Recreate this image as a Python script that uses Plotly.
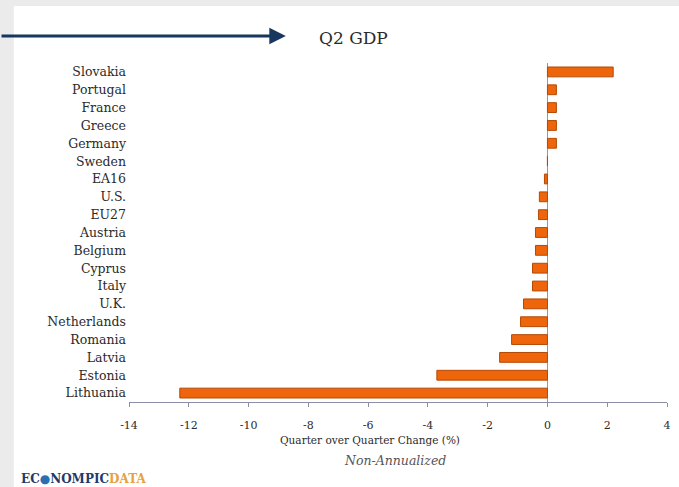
import plotly.graph_objects as go

# Q2 GDP, quarter over quarter change (%), non-annualized
countries = ["Slovakia", "Portugal", "France", "Greece", "Germany", "Sweden",
             "EA16", "U.S.", "EU27", "Austria", "Belgium", "Cyprus", "Italy",
             "U.K.", "Netherlands", "Romania", "Latvia", "Estonia", "Lithuania"]
gdp_change = [2.2, 0.3, 0.3, 0.3, 0.3, 0.0,
              -0.1, -0.27, -0.3, -0.4, -0.4, -0.5, -0.5,
              -0.8, -0.9, -1.2, -1.6, -3.7, -12.3]

x_ticks = [-14, -12, -10, -8, -6, -4, -2, 0, 2, 4]

SERIF = "DejaVu Serif"
TEXT = "#2b2b2b"

# plot area in pixels: x 129..671, y 63..402
L, R = 129, 671

def px(x):
    return (x - L) / (R - L)

def py(y):
    return (402 - y) / 339

fig = go.Figure()
fig.add_trace(go.Bar(
    x=gdp_change,
    y=countries,
    orientation="h",
    width=0.55,
    marker=dict(color="#EE650C", line=dict(color="#B44A05", width=1)),
    hoverinfo="x+y",
))

fig.update_layout(
    width=679,
    height=487,
    paper_bgcolor="#ebebeb",
    plot_bgcolor="rgba(0,0,0,0)",
    margin=dict(l=L, r=679 - R, t=63, b=85),
    showlegend=False,
    font=dict(family=SERIF, color=TEXT, size=12),
    xaxis=dict(
        range=[-14, 4],
        tickvals=x_ticks,
        ticktext=[str(v) for v in x_ticks],
        showgrid=False,
        zeroline=True,
        zerolinecolor="#8a9aae",
        zerolinewidth=1,
        showline=True,
        linecolor="#8a8fa8",
        linewidth=1,
        ticks="outside",
        ticklen=4,
        tickcolor="#8a8fa8",
        ticklabelstandoff=9,
        tickfont=dict(size=11, color=TEXT),
        fixedrange=True,
    ),
    yaxis=dict(
        autorange="reversed",
        showgrid=False,
        zeroline=False,
        showline=False,
        ticks="",
        ticklabelstandoff=2,
        tickfont=dict(size=12.5, color=TEXT),
        fixedrange=True,
    ),
    shapes=[
        # white panel behind the chart
        dict(type="rect", xref="paper", yref="paper",
             x0=px(13), x1=px(690), y0=py(495), y1=py(6),
             fillcolor="white", line=dict(width=0), layer="below"),
    ],
    annotations=[
        dict(text="Q2 GDP", xref="paper", yref="paper",
             x=px(355), y=py(38), xanchor="center", yanchor="middle",
             showarrow=False, font=dict(size=17, color=TEXT, family=SERIF)),
        dict(text="", xref="paper", yref="paper",
             x=px(287), y=py(36), ax=-292, ay=0,
             showarrow=True, arrowhead=2, arrowsize=1.1, arrowwidth=3,
             arrowcolor="#17375e"),
        dict(text="Quarter over Quarter Change (%)", xref="paper", yref="paper",
             x=px(372), y=py(440), xanchor="center", yanchor="middle",
             showarrow=False, font=dict(size=10.5, color=TEXT, family=SERIF)),
        dict(text="<i>Non-Annualized</i>", xref="paper", yref="paper",
             x=px(397), y=py(460), xanchor="center", yanchor="middle",
             showarrow=False, font=dict(size=12.5, color="#555555", family=SERIF)),
        dict(text="<b><span style='color:#1f3a6b'>EC</span>"
                  "<span style='color:#2a6fb0'>●</span>"
                  "<span style='color:#1f3a6b'>NOMPIC</span>"
                  "<span style='color:#e8a040'>DATA</span></b>",
             xref="paper", yref="paper",
             x=px(18), y=py(479), xanchor="left", yanchor="middle",
             showarrow=False, font=dict(size=12, family=SERIF)),
    ],
)

fig.write_html("out.html", config={"displayModeBar": False},
               post_script="document.body.style.margin='0';")
